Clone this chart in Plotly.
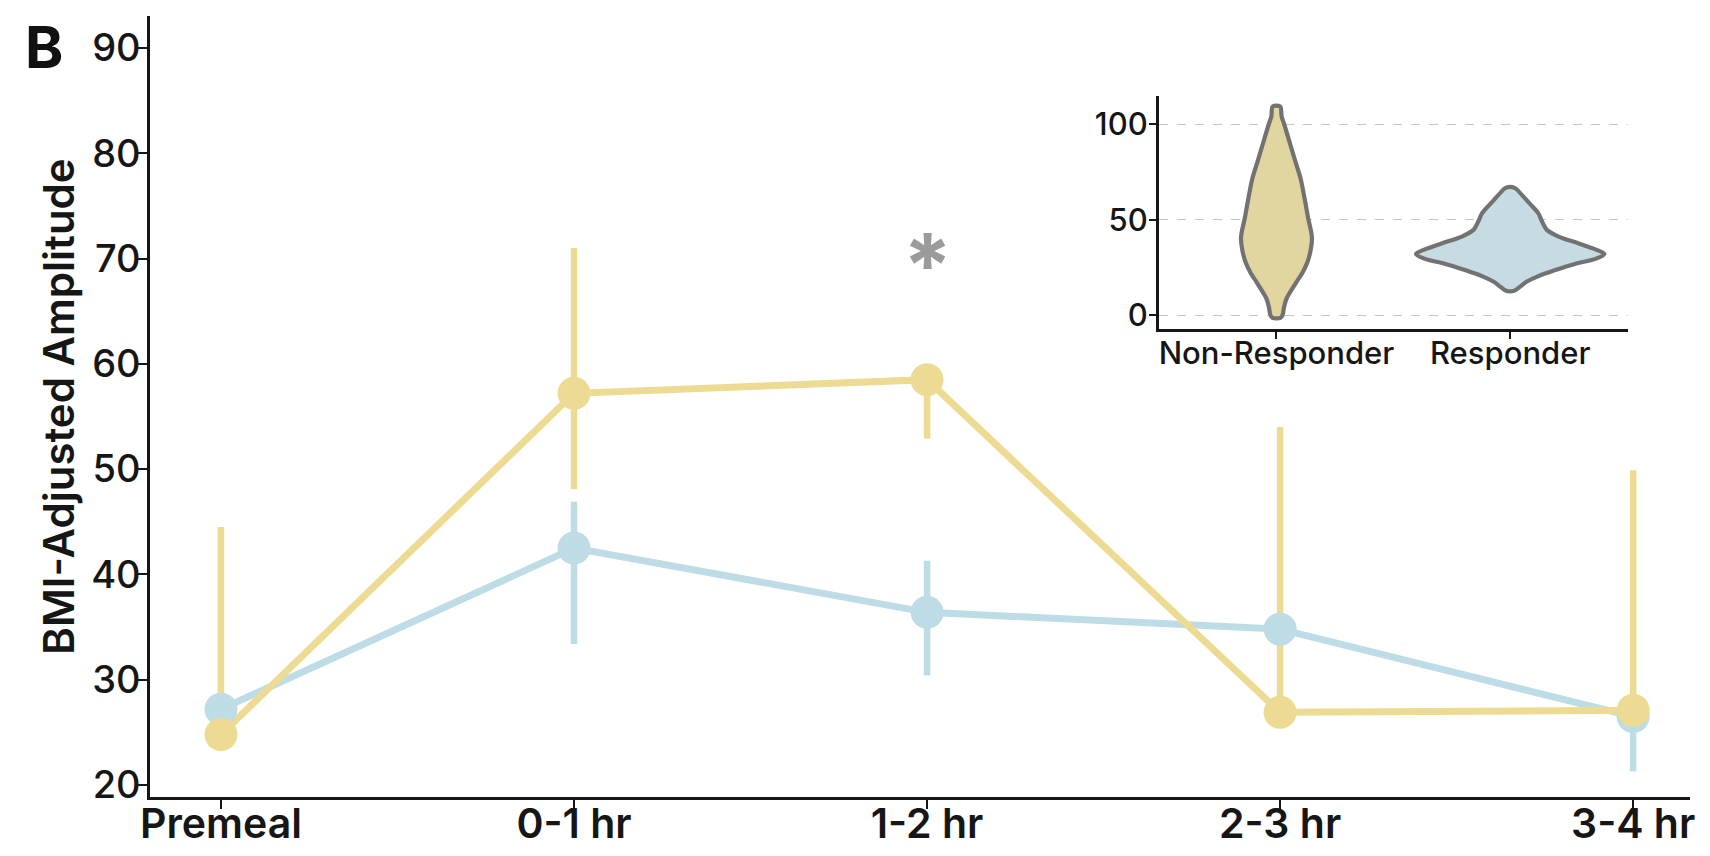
import plotly.graph_objects as go

# ---------------- data ----------------
timepoints = ["Premeal", "0-1 hr", "1-2 hr", "2-3 hr", "3-4 hr"]

nonresp_mean = [24.8, 57.2, 58.5, 26.9, 27.1]
nonresp_err_plus = [19.7, 13.8, 0.0, 27.1, 22.8]
nonresp_err_minus = [0.0, 9.1, 5.6, 0.0, 0.0]

resp_mean = [27.2, 42.5, 36.4, 34.8, 26.5]
resp_err_plus = [0.0, 4.4, 4.9, 0.0, 0.0]
resp_err_minus = [0.0, 9.1, 6.0, 0.0, 5.2]

sig_timepoint = "1-2 hr"
sig_value = 70.5
sig_label = "*"

# inset violin profiles (value level, half-width in category units)
groups = ["Non-Responder", "Responder"]
nr_levels = [109.3, 104, 100, 89, 80, 71.7, 60, 50, 44, 40.2, 34, 28, 22, 17.5, 12, 8.7, 4, 0, -1.4]
nr_halfwidth = [0.016, 0.022, 0.033, 0.060, 0.082, 0.103, 0.122, 0.137, 0.148, 0.152, 0.146, 0.133, 0.110, 0.086, 0.058, 0.043, 0.032, 0.026, 0.017]
r_levels = [66.7, 63, 58.8, 53.5, 50, 47, 44.7, 41.2, 37.7, 34.5, 32.1, 29.5, 27.2, 23.5, 20.2, 17.5, 15, 12.8]
r_halfwidth = [0.019, 0.050, 0.081, 0.120, 0.133, 0.145, 0.157, 0.207, 0.291, 0.365, 0.403, 0.365, 0.287, 0.190, 0.116, 0.070, 0.043, 0.017]

# ---------------- styles ----------------
YELLOW = "#EDDB93"
BLUE = "#BEDCE6"
V_YELLOW = "#E2D6A0"
V_BLUE = "#C7DBE3"
OUTLINE = "#727272"
FONT = "Inter"
INK = "#161616"

fig = go.Figure()

# error bars (drawn first, underneath)
fig.add_trace(go.Scatter(
    x=timepoints, y=resp_mean, mode="markers",
    marker=dict(size=1, color="rgba(0,0,0,0)"),
    error_y=dict(type="data", symmetric=False, array=resp_err_plus,
                 arrayminus=resp_err_minus, color=BLUE, thickness=6.5, width=0),
    hoverinfo="skip", showlegend=False))
fig.add_trace(go.Scatter(
    x=timepoints, y=nonresp_mean, mode="markers",
    marker=dict(size=1, color="rgba(0,0,0,0)"),
    error_y=dict(type="data", symmetric=False, array=nonresp_err_plus,
                 arrayminus=nonresp_err_minus, color=YELLOW, thickness=6.5, width=0),
    hoverinfo="skip", showlegend=False))

# lines
fig.add_trace(go.Scatter(x=timepoints, y=resp_mean, mode="lines",
                         line=dict(color=BLUE, width=7), name="Responder", showlegend=False))
fig.add_trace(go.Scatter(x=timepoints, y=nonresp_mean, mode="lines",
                         line=dict(color=YELLOW, width=7), name="Non-Responder", showlegend=False))
# markers
fig.add_trace(go.Scatter(x=timepoints, y=resp_mean, mode="markers",
                         marker=dict(color=BLUE, size=33), showlegend=False))
fig.add_trace(go.Scatter(x=timepoints, y=nonresp_mean, mode="markers",
                         marker=dict(color=YELLOW, size=33), showlegend=False))

# inset violins
def violin_outline(center, levels, hw):
    xs = [center + w for w in hw] + [center - w for w in reversed(hw)]
    ys = list(levels) + list(reversed(levels))
    xs.append(xs[0]); ys.append(ys[0])
    return xs, ys

for i, (lv, hw, fc) in enumerate([(nr_levels, nr_halfwidth, V_YELLOW),
                                   (r_levels, r_halfwidth, V_BLUE)]):
    xs, ys = violin_outline(i, lv, hw)
    fig.add_trace(go.Scatter(x=xs, y=ys, mode="lines", fill="toself",
                             fillcolor=fc, line=dict(color=OUTLINE, width=4.2, shape="spline", smoothing=0.9),
                             xaxis="x2", yaxis="y2", hoverinfo="skip", showlegend=False))

fig.update_layout(
    width=1694, height=840,
    margin=dict(l=142, r=12, t=8, b=51, autoexpand=False),
    paper_bgcolor="white", plot_bgcolor="white",
    font=dict(family=FONT, color=INK),
    showlegend=False,
    xaxis=dict(
        type="category", range=[-0.201, 4.161], automargin=False,
        showline=True, linecolor=INK, linewidth=2.5,
        ticks="outside", ticklen=9, tickwidth=2, tickcolor=INK,
        ticklabelstandoff=-20,
        showgrid=False, zeroline=False,
        tickfont=dict(size=41, family=FONT, weight=600),
    ),
    yaxis=dict(
        range=[18.86, 93.04], automargin=False,
        tickvals=[20, 30, 40, 50, 60, 70, 80, 90],
        showline=True, linecolor=INK, linewidth=2.5,
        ticks="outside", ticklen=9, tickwidth=2, tickcolor=INK,
        ticklabelstandoff=-10,
        showgrid=False, zeroline=False,
        tickfont=dict(size=38, family=FONT, weight=500),
        title=dict(text="BMI-Adjusted Amplitude", standoff=4,
                   font=dict(size=42, family=FONT, weight=600)),
    ),
    xaxis2=dict(
        domain=[0.655, 0.960], anchor="y2", automargin=False,
        range=[-0.504, 1.506],
        tickvals=[0, 1], ticktext=groups,
        showline=True, linecolor=INK, linewidth=2.5,
        ticks="outside", ticklen=7, tickwidth=1.5, tickcolor=INK,
        ticklabelstandoff=-12,
        showgrid=False, zeroline=False,
        tickfont=dict(size=31, family=FONT, weight=500),
    ),
    yaxis2=dict(
        domain=[0.599, 0.8976], anchor="x2", automargin=False,
        range=[-7.3, 114.8],
        tickvals=[0, 50, 100],
        showline=True, linecolor=INK, linewidth=2.5,
        ticks="outside", ticklen=7, tickwidth=1.5, tickcolor=INK,
        ticklabelstandoff=-5,
        showgrid=True, gridcolor="#C4C4C4", griddash="dash", gridwidth=1,
        zeroline=False,
        tickfont=dict(size=31, family=FONT, weight=500),
    ),
    annotations=[
        dict(text="<b>B</b>", xref="paper", yref="paper", x=-0.069, y=1.008,
             xanchor="center", yanchor="top", showarrow=False,
             font=dict(size=58, family=FONT, color="#111")),
        dict(text=sig_label, xref="x", yref="y", x=sig_timepoint, y=sig_value,
             xanchor="center", yanchor="middle", yshift=-12, showarrow=False,
             font=dict(size=88, family=FONT, color="#9b9b9b", weight=700)),
    ],
)

fig.write_html("out.html")
